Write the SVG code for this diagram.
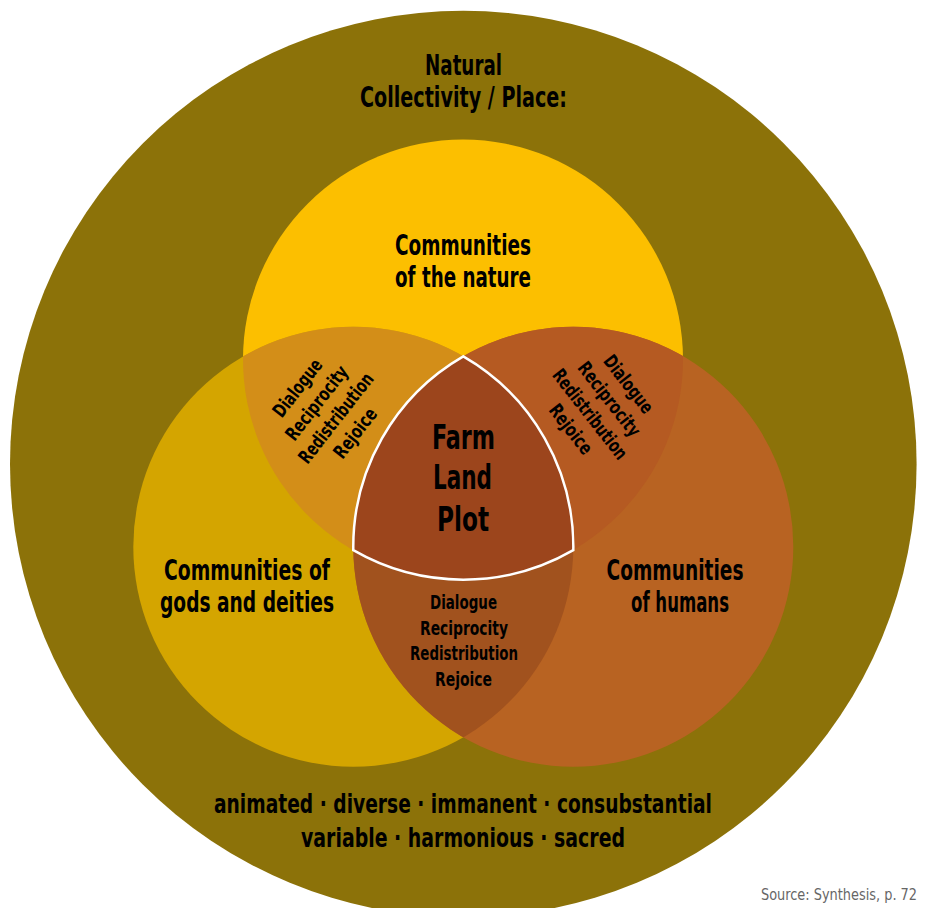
<svg xmlns="http://www.w3.org/2000/svg" width="925" height="908" viewBox="0 0 925 908">
<defs>
<style>
.t{font-family:"Liberation Sans Narrow","DejaVu Sans Condensed","Roboto Condensed",sans-serif;font-weight:bold;fill:#000;text-anchor:middle}
.h{font-size:29px}
.c{font-size:33px}
.s{font-size:19px}
.b{font-size:27px}
.src{font-family:"Liberation Sans Narrow","DejaVu Sans Condensed",sans-serif;font-size:16px;fill:#666;text-anchor:end}
</style>
<clipPath id="cT"><circle cx="463" cy="359.5" r="220"/></clipPath>
<clipPath id="cL"><circle cx="353.3" cy="546.8" r="220"/></clipPath>
<clipPath id="cR"><circle cx="573.3" cy="546.8" r="220"/></clipPath>
</defs>
<rect width="925" height="908" fill="#fff"/>
<g id="place">
<circle cx="463.3" cy="464" r="453.3" fill="#8C7209"/>
<text class="t h" x="463.5" y="75" textLength="77" lengthAdjust="spacingAndGlyphs">Natural</text>
<text class="t h" x="463.5" y="107" textLength="207" lengthAdjust="spacingAndGlyphs">Collectivity / Place:</text>
<text class="t b" x="463" y="813" textLength="498" lengthAdjust="spacingAndGlyphs">animated · diverse · immanent · consubstantial</text>
<text class="t b" x="463" y="847" textLength="324" lengthAdjust="spacingAndGlyphs">variable · harmonious · sacred</text>
</g>
<g id="nature">
<circle cx="463" cy="359.5" r="220" fill="#FCBF00"/>
</g>
<g id="deities">
<circle cx="353.3" cy="546.8" r="220" fill="#D4A500"/>
</g>
<g id="humans">
<circle cx="573.3" cy="546.8" r="220" fill="#B86322"/>
</g>
<g id="overlaps">
<g clip-path="url(#cT)"><circle cx="353.3" cy="546.8" r="220" fill="#D38E18"/></g>
<g clip-path="url(#cT)"><circle cx="573.3" cy="546.8" r="220" fill="#B55A22"/></g>
<g clip-path="url(#cL)"><circle cx="573.3" cy="546.8" r="220" fill="#A1521E"/></g>
</g>
<g id="farm">
<path d="M463.3,356.3 A220,220 0 0 1 573.3,550.2 A220,220 0 0 1 353.3,550.2 A220,220 0 0 1 463.3,356.3 Z" fill="#9C451C" stroke="#fff" stroke-width="2.5" stroke-linejoin="miter"/>
<text class="t c" x="463.5" y="449" textLength="63" lengthAdjust="spacingAndGlyphs">Farm</text>
<text class="t c" x="462.5" y="489" textLength="59" lengthAdjust="spacingAndGlyphs">Land</text>
<text class="t c" x="463" y="531" textLength="52" lengthAdjust="spacingAndGlyphs">Plot</text>
</g>
<g id="labels">
<text class="t h" x="463" y="255" textLength="136" lengthAdjust="spacingAndGlyphs">Communities</text>
<text class="t h" x="463" y="287" textLength="136" lengthAdjust="spacingAndGlyphs">of the nature</text>
<text class="t h" x="247" y="580" textLength="166" lengthAdjust="spacingAndGlyphs">Communities of</text>
<text class="t h" x="247" y="612" textLength="174" lengthAdjust="spacingAndGlyphs">gods and deities</text>
<text class="t h" x="675" y="580" textLength="137" lengthAdjust="spacingAndGlyphs">Communities</text>
<text class="t h" x="680" y="612" textLength="98" lengthAdjust="spacingAndGlyphs">of humans</text>
</g>
<g id="lens-left" transform="translate(326.7,410.8) rotate(-52)">
<text class="t s" x="0" y="-30.6" textLength="68" lengthAdjust="spacingAndGlyphs">Dialogue</text>
<text class="t s" x="0" y="-6.2" textLength="89" lengthAdjust="spacingAndGlyphs">Reciprocity</text>
<text class="t s" x="0" y="18.2" textLength="109" lengthAdjust="spacingAndGlyphs">Redistribution</text>
<text class="t s" x="0" y="42.6" textLength="58" lengthAdjust="spacingAndGlyphs">Rejoice</text>
</g>
<g id="lens-right" transform="translate(599.3,407) rotate(52)">
<text class="t s" x="0" y="-30.6" textLength="68" lengthAdjust="spacingAndGlyphs">Dialogue</text>
<text class="t s" x="0" y="-6.2" textLength="89" lengthAdjust="spacingAndGlyphs">Reciprocity</text>
<text class="t s" x="0" y="18.2" textLength="109" lengthAdjust="spacingAndGlyphs">Redistribution</text>
<text class="t s" x="0" y="42.6" textLength="58" lengthAdjust="spacingAndGlyphs">Rejoice</text>
</g>
<g id="lens-bottom">
<text class="t s" x="463.5" y="609" textLength="67" lengthAdjust="spacingAndGlyphs">Dialogue</text>
<text class="t s" x="464" y="635" textLength="88" lengthAdjust="spacingAndGlyphs">Reciprocity</text>
<text class="t s" x="464" y="660" textLength="108" lengthAdjust="spacingAndGlyphs">Redistribution</text>
<text class="t s" x="463.5" y="686" textLength="57" lengthAdjust="spacingAndGlyphs">Rejoice</text>
</g>
<text class="src" x="917" y="900" textLength="156" lengthAdjust="spacingAndGlyphs">Source: Synthesis, p. 72</text>
</svg>
